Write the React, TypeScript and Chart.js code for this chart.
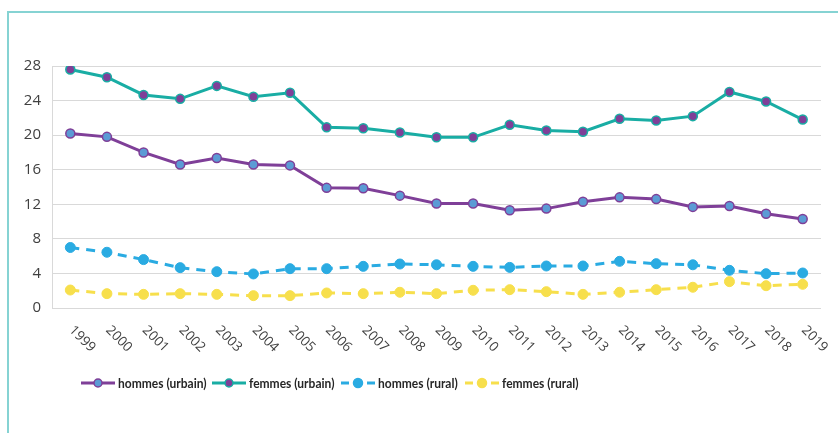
import React, { useEffect, useRef } from "react";
import { Chart, registerables } from "chart.js";

Chart.register(...registerables);

const years = ["1999","2000","2001","2002","2003","2004","2005","2006","2007","2008","2009","2010","2011","2012","2013","2014","2015","2016","2017","2018","2019"];
const hommesUrbain = [20.2,19.8,18.0,16.6,17.35,16.6,16.5,13.9,13.85,13.0,12.1,12.1,11.3,11.5,12.3,12.8,12.6,11.7,11.8,10.9,10.3];
const femmesUrbain = [27.6,26.7,24.65,24.2,25.7,24.45,24.9,20.9,20.8,20.3,19.75,19.75,21.2,20.55,20.4,21.9,21.7,22.2,25.0,23.9,21.8];
const hommesRural = [7.0,6.45,5.6,4.67,4.2,3.94,4.55,4.55,4.82,5.09,5.0,4.82,4.7,4.86,4.86,5.4,5.13,5.0,4.36,3.97,4.05];
const femmesRural = [2.08,1.66,1.58,1.66,1.58,1.43,1.43,1.74,1.66,1.82,1.66,2.05,2.12,1.89,1.58,1.82,2.12,2.4,3.05,2.58,2.74];
const seriesNames = ["hommes (urbain)", "femmes (urbain)", "hommes (rural)", "femmes (rural)"];
const yTicks = [0, 4, 8, 12, 16, 20, 24, 28];

const PURPLE = "#7f3f98";
const TEAL = "#19ada4";
const BLUE_FILL = "#5b9bd5";
const LIGHT_BLUE = "#2aabe2";
const YELLOW = "#f7df4c";

const legendX = [81, 212, 341, 465];

export default function App() {
  const ref = useRef<HTMLCanvasElement | null>(null);

  useEffect(() => {
    if (!ref.current) return;
    const framePlugin = {
      id: "frame",
      beforeDraw(chart: any) {
        const ctx = chart.ctx;
        ctx.save();
        ctx.strokeStyle = "#86d3d3";
        ctx.lineWidth = 2;
        ctx.beginPath();
        ctx.moveTo(8, 433);
        ctx.lineTo(8, 12);
        ctx.lineTo(838, 12);
        ctx.stroke();
        ctx.restore();
      },
    };
    const xLabelPlugin = {
      id: "xLabels",
      afterDraw(chart: any) {
        const ctx = chart.ctx;
        const xs = chart.scales.x;
        const bottom = chart.chartArea.bottom;
        ctx.save();
        ctx.font = '13.5px "Open Sans", sans-serif';
        ctx.fillStyle = "#404040";
        ctx.textAlign = "left";
        ctx.textBaseline = "middle";
        years.forEach((lab, i) => {
          const x = xs.getPixelForValue(i);
          ctx.save();
          ctx.translate(x + 1, bottom + 20);
          ctx.rotate(Math.PI / 4);
          ctx.fillText(lab, 0, 0);
          ctx.restore();
        });
        ctx.restore();
      },
    };
    const legendPlugin = {
      id: "customLegend",
      afterDraw(chart: any) {
        const ctx = chart.ctx;
        const y = 383;
        ctx.save();
        chart.data.datasets.forEach((ds: any, i: number) => {
          const x0 = legendX[i];
          ctx.lineWidth = 3;
          ctx.strokeStyle = ds.borderColor;
          ctx.setLineDash([]);
          ctx.beginPath();
          const dashed = ds.borderDash && ds.borderDash.length;
          if (dashed) {
            ctx.moveTo(x0, y); ctx.lineTo(x0 + 8, y);
            ctx.moveTo(x0 + 26, y); ctx.lineTo(x0 + 34, y);
          } else {
            ctx.moveTo(x0, y); ctx.lineTo(x0 + 34, y);
          }
          ctx.stroke();
          ctx.beginPath();
          ctx.arc(x0 + 17, y, dashed ? 4.5 : 4, 0, Math.PI * 2);
          ctx.fillStyle = ds.pointBackgroundColor;
          ctx.fill();
          ctx.lineWidth = 1.5;
          ctx.strokeStyle = ds.pointBorderColor;
          ctx.stroke();
          ctx.save();
          ctx.translate(x0 + 37, y + 1);
          ctx.scale(0.89, 1);
          ctx.font = 'bold 13.5px Lato, sans-serif';
          ctx.fillStyle = "#262626";
          ctx.textAlign = "left";
          ctx.textBaseline = "middle";
          ctx.fillText(ds.label, 0, 0);
          ctx.restore();
        });
        ctx.restore();
      },
    };

    const chart = new Chart(ref.current, {
      type: "line",
      data: {
        labels: years,
        datasets: [
          {
            label: seriesNames[0],
            data: hommesUrbain,
            borderColor: PURPLE,
            borderWidth: 3,
            pointBackgroundColor: BLUE_FILL,
            pointBorderColor: PURPLE,
            pointBorderWidth: 1.5,
            pointRadius: 4.5,
            tension: 0,
          },
          {
            label: seriesNames[1],
            data: femmesUrbain,
            borderColor: TEAL,
            borderWidth: 3,
            pointBackgroundColor: PURPLE,
            pointBorderColor: TEAL,
            pointBorderWidth: 1.5,
            pointRadius: 4.5,
            tension: 0,
          },
          {
            label: seriesNames[2],
            data: hommesRural,
            borderColor: LIGHT_BLUE,
            borderWidth: 3,
            borderDash: [9, 7],
            pointBackgroundColor: LIGHT_BLUE,
            pointBorderColor: LIGHT_BLUE,
            pointBorderWidth: 1,
            pointRadius: 5,
            tension: 0,
          },
          {
            label: seriesNames[3],
            data: femmesRural,
            borderColor: YELLOW,
            borderWidth: 3,
            borderDash: [9, 7],
            pointBackgroundColor: YELLOW,
            pointBorderColor: YELLOW,
            pointBorderWidth: 1,
            pointRadius: 5,
            tension: 0,
          },
        ],
      },
      options: {
        responsive: false,
        animation: false,
        layout: { padding: { left: 0, right: 17, top: 66, bottom: 0 } },
        plugins: { legend: { display: false }, tooltip: { enabled: false } },
        scales: {
          x: {
            offset: true,
            grid: { display: false },
            border: { display: false },
            ticks: { display: false },
            afterFit(scale: any) { scale.height = 125; },
          },
          y: {
            min: 0,
            max: 28,
            afterBuildTicks(scale: any) { scale.ticks = yTicks.map((v) => ({ value: v })); },
            grid: { color: "#d9d9d9", lineWidth: 1, drawTicks: false },
            border: { color: "#d9d9d9" },
            ticks: {
              padding: 11,
              color: "#404040",
              font: { family: '"Open Sans", sans-serif', size: 15 },
            },
            afterFit(scale: any) { scale.width = 52; },
          },
        },
      },
      plugins: [framePlugin, xLabelPlugin, legendPlugin],
    });
    return () => chart.destroy();
  }, []);

  return (
    <div style={{ position: "fixed", left: 0, top: 0, width: 838, height: 433, overflow: "hidden", background: "#fff" }}>
      <canvas ref={ref} width={838} height={433} style={{ position: "absolute", left: 0, top: 0, display: "block" }} />
    </div>
  );
}
